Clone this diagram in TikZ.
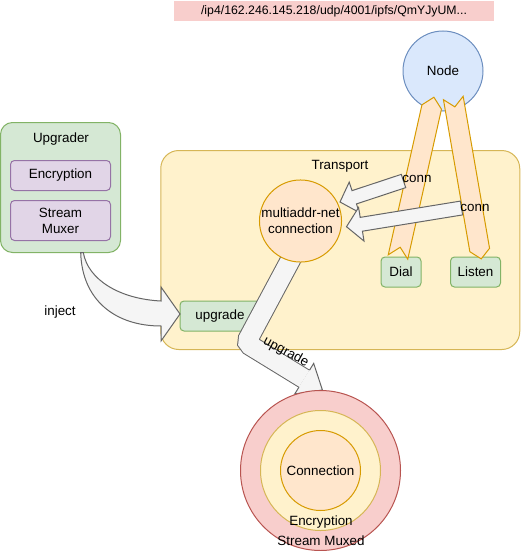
\documentclass[tikz,border=0pt]{standalone}
\usepackage{fontspec}
\setmainfont{Liberation Sans}
\usetikzlibrary{calc}
\definecolor{gfill}{HTML}{D5E8D4}\definecolor{gline}{HTML}{82B366}
\definecolor{pfill}{HTML}{E1D5E7}\definecolor{pline}{HTML}{9673A6}
\definecolor{yfill}{HTML}{FFF2CC}\definecolor{yline}{HTML}{D6B656}
\definecolor{ofill}{HTML}{FFE6CC}\definecolor{oline}{HTML}{D79B00}
\definecolor{bfill}{HTML}{DAE8FC}\definecolor{bline}{HTML}{6C8EBF}
\definecolor{rfill}{HTML}{F8CECC}\definecolor{rline}{HTML}{B85450}
\definecolor{afill}{HTML}{F5F5F5}\definecolor{aline}{HTML}{666666}
\begin{document}
\begin{tikzpicture}[x=1pt,y=-1pt,line width=1pt,
  every node/.style={font=\fontsize{13.4pt}{16pt}\selectfont,inner sep=0pt,outer sep=0pt,align=center},
  gbox/.style={draw=gline,fill=gfill,rounded corners=4pt},
  pbox/.style={draw=pline,fill=pfill,rounded corners=4pt},
  ybox/.style={draw=yline,fill=yfill},
  ocirc/.style={circle,draw=oline,fill=ofill},
  chev/.style={draw=oline,fill=ofill,line join=miter},
  garrow/.style={draw=aline,fill=afill,line join=miter}]
\useasboundingbox (0,0) rectangle (521,551);

% address
\node[fill=rfill,minimum width=320pt,minimum height=20pt,font=\fontsize{12.3pt}{14pt}\selectfont] (addr) at (334,11) {/ip4/162.246.145.218/udp/4001/ipfs/QmYJyUM...};

% upgrader
\node[draw=gline,fill=gfill,rounded corners=12pt,minimum width=120pt,minimum height=130pt] (upg) at (60.5,187.5) {};
\node (upgt) at (61,139) {Upgrader};
\node[pbox,minimum width=100pt,minimum height=30pt] (enc) at (60.5,175.5) {Encryption};
\node[pbox,minimum width=100pt,minimum height=40pt] (mux) at (60.5,220.5) {Stream\\Muxer};

% transport
\node[ybox,rounded corners=18pt,minimum width=359pt,minimum height=199pt] (tr) at (340.25,250) {};
\node (trt) at (340,166) {Transport};
\node[gbox,minimum width=40pt,minimum height=30pt] (dial) at (401,272) {Dial};
\node[gbox,minimum width=50pt,minimum height=30pt] (listen) at (475.5,272) {Listen};
\node[gbox,minimum width=80pt,minimum height=30pt] (upb) at (220,316) {upgrade};

% node
\node[circle,draw=bline,fill=bfill,minimum size=80pt] (node) at (443,71) {Node};

% chevrons
\coordinate (db) at (398,257);
\coordinate (dt) at (431.7,107);
\draw[chev] ($(db)!10pt!90:(dt)$) -- ($(dt)!10pt!-90:(db)$) -- ($(dt)!-10pt!(db)$) -- ($(dt)!10pt!90:(db)$) -- ($(db)!10pt!-90:(dt)$) -- ($(db)!10pt!(dt)$) -- cycle;
\coordinate (lt) at (453.3,98);
\coordinate (lb) at (479.7,250);
\draw[chev] ($(lt)!10pt!90:(lb)$) -- ($(lb)!10pt!-90:(lt)$) -- ($(lb)!-9pt!(lt)$) -- ($(lb)!10pt!90:(lt)$) -- ($(lt)!10pt!-90:(lb)$) -- ($(lt)!9pt!(lb)$) -- cycle;

% conn arrows
\coordinate (c1t) at (403.5,181);
\coordinate (c1p) at (340,202);
\coordinate (c1b) at ($(c1p)!15pt!(c1t)$);
\draw[garrow] ($(c1t)!7pt!90:(c1p)$) -- ($(c1b)!7pt!90:(c1p)$) -- ($(c1b)!16pt!90:(c1p)$) -- (c1p) -- ($(c1b)!16pt!-90:(c1p)$) -- ($(c1b)!7pt!-90:(c1p)$) -- ($(c1t)!7pt!-90:(c1p)$) -- cycle;
\coordinate (c2t) at (461.5,208);
\coordinate (c2p) at (346.5,226.7);
\coordinate (c2b) at ($(c2p)!15pt!(c2t)$);
\draw[garrow] ($(c2t)!7pt!90:(c2p)$) -- ($(c2b)!7pt!90:(c2p)$) -- ($(c2b)!17pt!90:(c2p)$) -- (c2p) -- ($(c2b)!17pt!-90:(c2p)$) -- ($(c2b)!7pt!-90:(c2p)$) -- ($(c2t)!7pt!-90:(c2p)$) -- cycle;

% inject arrow
\coordinate (i0) at (80.7,252.5);
\coordinate (i1) at (83.3,252.5);
\draw[garrow] (i0) .. controls (82,300) and (115,326) .. (161,326) -- (161,341) -- (180,314) -- (161,287) -- (161,301) .. controls (120,299) and (88,280) .. (i1) -- cycle;

% upgrade arrow
\coordinate (u0) at (293.8,253.7);
\coordinate (ub) at (246,343);
\coordinate (uh) at (304.2,378.7);
\coordinate (ut) at (322.4,390);
\draw[aline,line width=21pt,rounded corners=5pt] (u0) -- (ub) -- (uh);
\draw[afill,line width=19pt,rounded corners=5pt] (u0) -- (ub) -- (uh);
\fill[afill] ($(uh)!18pt!90:(ut)$) -- (ut) -- ($(uh)!18pt!-90:(ut)$) -- cycle;
\draw[aline,line join=miter] ($(uh)!10pt!90:(ut)$) -- ($(uh)!18pt!90:(ut)$) -- (ut) -- ($(uh)!18pt!-90:(ut)$) -- ($(uh)!10pt!-90:(ut)$);

% multiaddr circle
\node[ocirc,minimum size=80pt] (mnc) at (300.5,221) {multiaddr-net\\connection};

% result circles
\node[circle,draw=rline,fill=rfill,minimum size=160pt] (smux) at (320.5,470.5) {};
\node[circle,draw=yline,fill=yfill,minimum size=120pt] (encc) at (320.5,470.5) {};
\node[ocirc,minimum size=80pt] (conn) at (320.5,470.5) {Connection};
\node (encl) at (321,522) {Encryption};
\node (smuxl) at (321,541) {Stream Muxed};

% labels
\node (connl1) at (417,179) {conn};
\node (connl2) at (475,208) {conn};
\node (injl) at (60,312) {inject};
\node[rotate=-28] (upl) at (286,352) {upgrade};
\end{tikzpicture}
\end{document}
